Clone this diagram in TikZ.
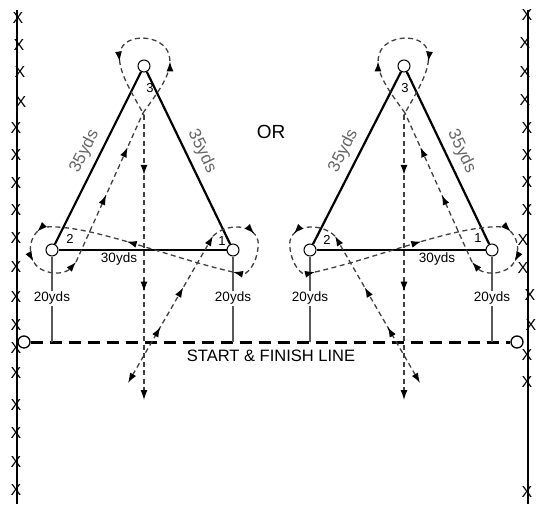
\documentclass[tikz,border=0pt]{standalone}
\usepackage{fontspec}
\setmainfont{Liberation Sans}
\usetikzlibrary{arrows.meta, decorations.markings, positioning}
\tikzset{%
   cone/.style={circle, draw=black, fill=white, line width=1pt, minimum size=12pt, inner sep=0pt},
   post/.style={circle, draw=black, fill=white, line width=1.3pt, minimum size=12pt, inner sep=0pt},
   leg/.style={line width=2.2pt, draw=black},
   gap/.style={draw=black!65, line width=1.3pt},
   run/.style={draw=black!75, line width=1.3pt, dash pattern=on 5pt off 3.5pt},
   arr/.style={postaction={decorate, decoration={markings, mark=at position #1 with {\arrow{Latex[length=10pt, width=7pt, black]}}}}},
   yds/.style={font=\fontsize{13.5}{14}\selectfont, inner sep=1pt},
   num/.style={font=\fontsize{13}{13}\selectfont, inner sep=0pt},
   slant/.style={font=\fontsize{17}{17}\selectfont, text=black!60, midway, sloped, above=3pt, inner sep=3pt},
   xmark/.style={font=\fontsize{16}{16}\selectfont, inner sep=0pt},
   >={Latex[length=10pt, width=7pt, black]},
}
\begin{document}
\begin{tikzpicture}[x=1pt, y=-1pt]
   \useasboundingbox (0,0) rectangle (536,504);
   % side lines
   \coordinate (lt) at (17,10);
   \coordinate (lb) at (17,504);
   \coordinate (rt) at (528,10);
   \coordinate (rb) at (528,504);
   \draw[line width=2.4pt] (lt) -- (lb);
   \draw[line width=2.4pt] (rt) -- (rb);
   \foreach \x/\y [count=\i] in {18/18, 19/45, 20/72, 21/102, 16/128, 16/155, 16/183, 16/210, 16/238,
      16/267, 16/297, 16/325, 16/348, 16/373, 16/405, 16/433, 16/462, 16/490}
      \node[xmark] (xl\i) at (\x,\y) {X};
   \foreach \x/\y [count=\i] in {527/15, 525/43, 525/72, 525/100, 527/128, 527/155, 527/182, 527/210,
      523/240, 523/268, 530/295, 531/325, 527/355, 527/382, 527/492}
      \node[xmark] (xr\i) at (\x,\y) {X};
   % start & finish line
   \node[post] (sl) at (24,342) {};
   \node[post] (sr) at (517,342) {};
   \draw[line width=3pt, dash pattern=on 12pt off 7pt] (sl) -- (sr);
   \node[font=\fontsize{16.5}{16.5}\selectfont, anchor=base] (sf) at (271,361) {START \& FINISH LINE};
   \node[font=\fontsize{19}{19}\selectfont] (or) at (271,132) {OR};
   % left triangle
   \node[cone] (a2) at (52,250) {};
   \node[cone] (a1) at (233,250) {};
   \node[cone] (a3) at (144,66) {};
   \draw[leg] (a2) -- node[slant] (a23) {35yds} (a3);
   \draw[leg] (a3) -- node[slant] (a31) {35yds} (a1);
   \draw[leg] (a2) -- (a1);
   \node[yds] (a21) at (119,259) {30yds};
   \draw[gap] (a2) -- node[yds, fill=white, pos=0.49] (da2) {20yds} (a2 |- sl);
   \draw[gap] (a1) -- node[yds, fill=white, pos=0.49] (da1) {20yds} (a1 |- sl);
   \node[num] (na2) at (70,239) {2};
   \node[num] (na1) at (222,241) {1};
   \node[num] (na3) at (150,88) {3};
   % right triangle
   \node[cone] (b2) at (310,250) {};
   \node[cone] (b1) at (492,250) {};
   \node[cone] (b3) at (404,66) {};
   \draw[leg] (b2) -- node[slant] (b23) {35yds} (b3);
   \draw[leg] (b3) -- node[slant] (b31) {35yds} (b1);
   \draw[leg] (b2) -- (b1);
   \node[yds] (b21) at (437,259) {30yds};
   \draw[gap] (b2) -- node[yds, fill=white, pos=0.49] (db2) {20yds} (b2 |- sl);
   \draw[gap] (b1) -- node[yds, fill=white, pos=0.49] (db1) {20yds} (b1 |- sl);
   \node[num] (nb2) at (327,240) {2};
   \node[num] (nb1) at (478,238) {1};
   \node[num] (nb3) at (405,88) {3};
   % running route, drawn once and mirrored
   \foreach \sx/\fx in {0/1, 548/-1} {
      \begin{scope}[xshift=\sx pt, xscale=\fx]
         \draw[run, <->, arr=0.38, arr=0.65] (128,383) -- (213,236);
         \draw[run, ->, arr=0.45] (213,236) .. controls (230,220) and (262,226) .. (258,248)
            .. controls (256,266) and (246,275) .. (233,272);
         \draw[run, arr=0.57] (233,272) .. controls (170,258) and (90,224) .. (45,227);
         \draw[run, ->, arr=0.1, arr=0.45] (45,227) .. controls (27,232) and (24,264) .. (45,271)
            .. controls (58,276) and (68,271) .. (76,262);
         \draw[run, arr=0.45, arr=0.77] (76,262) -- (143,113);
         \draw[run, arr=0.3, arr=0.7] (143,113) .. controls (158,92) and (174,72) .. (169,55)
            .. controls (164,34) and (124,32) .. (120,52) .. controls (116,70) and (134,96) .. (144,115);
         \draw[run, ->, arr=0.21, arr=0.62] (144,115) -- (144,400);
      \end{scope}
   }
\end{tikzpicture}
\end{document}
